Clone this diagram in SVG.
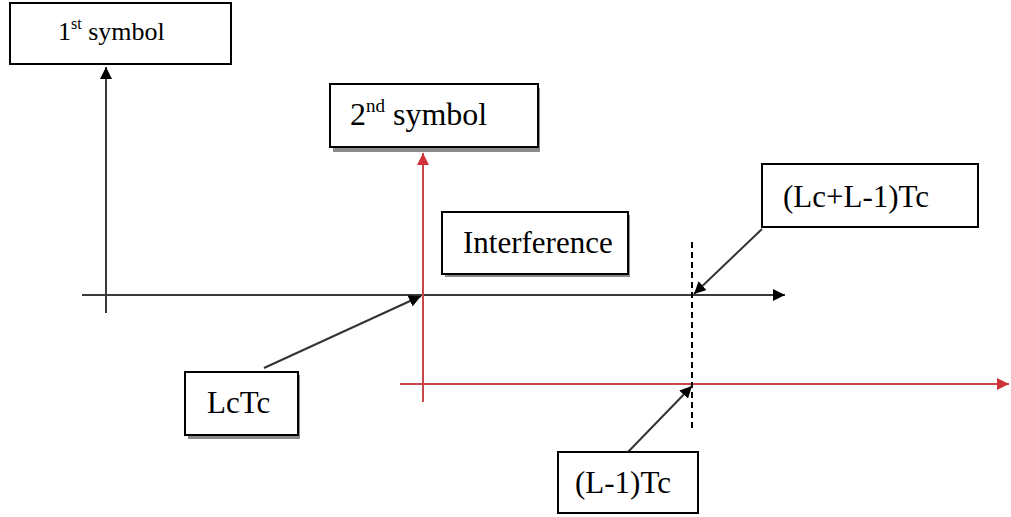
<svg xmlns="http://www.w3.org/2000/svg" width="1011" height="517" viewBox="0 0 1011 517">
<style>
.box{fill:#fff;stroke:#000;stroke-width:2}
.shadow{fill:#8a8a8a}
.t{font-family:"Liberation Serif","Times New Roman",serif;font-size:31px;fill:#000}
.ax{stroke:#3a3a3a;stroke-width:2;fill:none}
.rd{stroke:#c9474b;stroke-width:2;fill:none}
.dash{stroke:#000;stroke-width:2;stroke-dasharray:6,4;fill:none}
.lead{stroke:#333;stroke-width:2;fill:none}
</style>
<defs>
<marker id="ab" viewBox="0 0 10 10" refX="10" refY="5" markerWidth="6" markerHeight="6" orient="auto" markerUnits="strokeWidth"><path d="M0,0 L10,5 L0,10 z" fill="#000"/></marker>
<marker id="ar" viewBox="0 0 10 10" refX="10" refY="5" markerWidth="6" markerHeight="6" orient="auto" markerUnits="strokeWidth"><path d="M0,0 L10,5 L0,10 z" fill="#d0343a"/></marker>
</defs>
<rect width="1011" height="517" fill="#fff"/>
<g id="connectors">
<line class="ax" x1="82" y1="295" x2="785" y2="295" marker-end="url(#ab)"/>
<line class="ax" x1="106" y1="313" x2="106" y2="67" marker-end="url(#ab)"/>
<line class="rd" x1="423" y1="402" x2="423" y2="153" marker-end="url(#ar)"/>
<line class="rd" x1="400" y1="384" x2="1009" y2="384" marker-end="url(#ar)"/>
<line class="dash" x1="692" y1="242" x2="692" y2="432"/>
<line class="lead" x1="762" y1="229" x2="694" y2="294" marker-end="url(#ab)"/>
<line class="lead" x1="628" y1="452" x2="692" y2="386" marker-end="url(#ab)"/>
<line class="lead" x1="264" y1="368" x2="421" y2="296" marker-end="url(#ab)"/>
</g>
<g id="n1">
<rect class="box" x="10" y="3" width="221" height="61"/>
<text class="t" x="58" y="40" style="font-size:26px">1<tspan font-size="16" dy="-11">st</tspan><tspan dy="11"> symbol</tspan></text>
</g>
<g id="n2">
<rect class="shadow" x="333" y="88" width="207" height="64"/>
<rect class="box" x="330" y="84" width="208" height="63"/>
<text class="t" x="350" y="125" style="font-size:32px">2<tspan font-size="19" dy="-13">nd</tspan><tspan dy="13"> symbol</tspan></text>
</g>
<g id="n3">
<rect class="shadow" x="445" y="215" width="185" height="62"/>
<rect class="box" x="442" y="212" width="186" height="62"/>
<text class="t" x="463" y="253">Interference</text>
</g>
<g id="n4">
<rect class="box" x="762" y="164" width="216" height="63"/>
<text class="t" x="783" y="207">(Lc+L-1)Tc</text>
</g>
<g id="n5">
<rect class="shadow" x="188" y="375" width="112" height="64"/>
<rect class="box" x="185" y="372" width="113" height="63"/>
<text class="t" x="207" y="413">LcTc</text>
</g>
<g id="n6">
<rect class="box" x="558" y="452" width="140" height="61"/>
<text class="t" x="575" y="493">(L-1)Tc</text>
</g>
</svg>
